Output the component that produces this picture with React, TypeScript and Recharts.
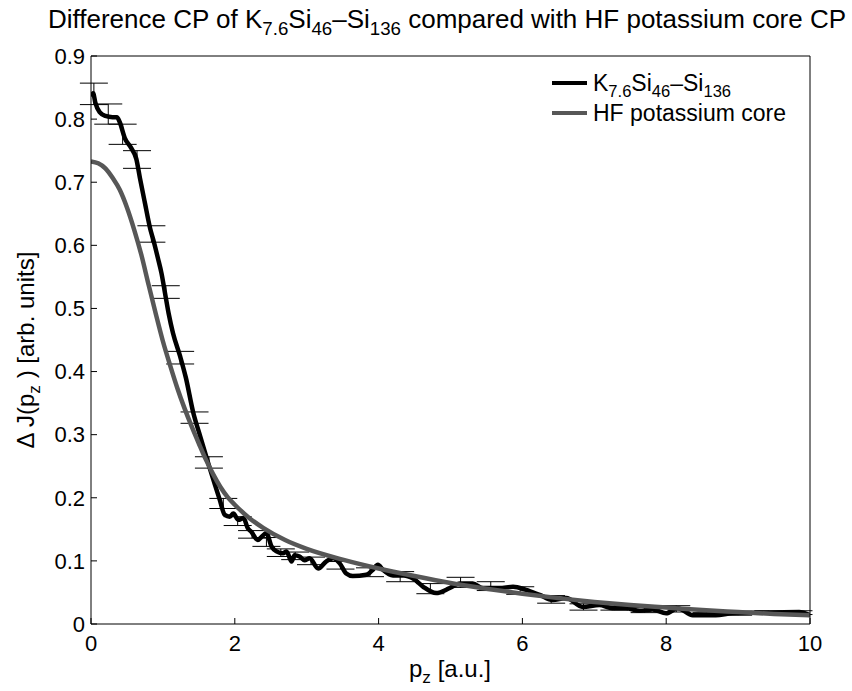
import { ComposedChart, Line, Scatter, ErrorBar, XAxis, YAxis } from "recharts";

// K7.6Si46 - Si136 difference profile (black)
const diffX = [0, 0.03, 0.06, 0.12, 0.2, 0.3, 0.36, 0.4, 0.47, 0.56, 0.63, 0.68, 0.75, 0.82, 0.88, 0.93, 0.98, 1.03, 1.08, 1.14, 1.24, 1.32, 1.42, 1.52, 1.63, 1.72, 1.79, 1.86, 1.93, 1.98, 2.05, 2.12, 2.18, 2.23, 2.32, 2.37, 2.44, 2.51, 2.58, 2.67, 2.72, 2.79, 2.83, 2.9, 2.97, 3.04, 3.16, 3.27, 3.37, 3.46, 3.55, 3.64, 3.83, 3.92, 3.99, 4.06, 4.2, 4.35, 4.48, 4.62, 4.8, 4.99, 5.13, 5.31, 5.45, 5.68, 5.87, 6.05, 6.24, 6.42, 6.61, 6.84, 7.07, 7.25, 7.44, 7.63, 7.81, 8.0, 8.16, 8.37, 8.69, 8.92, 9.38, 9.85, 10];
const diffY = [0.836, 0.841, 0.826, 0.811, 0.805, 0.803, 0.803, 0.795, 0.77, 0.754, 0.737, 0.707, 0.667, 0.628, 0.603, 0.58, 0.556, 0.524, 0.492, 0.461, 0.424, 0.39, 0.336, 0.297, 0.255, 0.222, 0.197, 0.173, 0.17, 0.175, 0.165, 0.168, 0.152, 0.146, 0.133, 0.138, 0.144, 0.123, 0.115, 0.112, 0.115, 0.099, 0.109, 0.107, 0.101, 0.104, 0.088, 0.099, 0.104, 0.096, 0.08, 0.076, 0.078, 0.086, 0.094, 0.086, 0.077, 0.077, 0.072, 0.059, 0.049, 0.057, 0.064, 0.064, 0.057, 0.057, 0.059, 0.054, 0.046, 0.038, 0.041, 0.027, 0.03, 0.025, 0.025, 0.021, 0.023, 0.017, 0.025, 0.014, 0.014, 0.017, 0.018, 0.019, 0.014];

// HF potassium core profile (grey)
const hfX = [0, 0.1, 0.2, 0.3, 0.4, 0.5, 0.6, 0.7, 0.8, 0.9, 1.0, 1.1, 1.2, 1.3, 1.4, 1.5, 1.6, 1.7, 1.8, 1.9, 2.0, 2.2, 2.4, 2.7, 3.0, 3.5, 4.0, 4.5, 5.0, 5.5, 6.0, 6.5, 7.0, 7.5, 8.0, 8.5, 9.0, 9.5, 10];
const hfY = [0.733, 0.73, 0.722, 0.707, 0.688, 0.66, 0.625, 0.585, 0.538, 0.492, 0.448, 0.41, 0.374, 0.342, 0.313, 0.286, 0.26, 0.237, 0.217, 0.201, 0.189, 0.168, 0.152, 0.133, 0.119, 0.102, 0.088, 0.076, 0.065, 0.056, 0.048, 0.041, 0.035, 0.03, 0.026, 0.022, 0.019, 0.016, 0.014];

// error bars on the measured difference
const barX = [0.04, 0.24, 0.44, 0.64, 0.84, 1.04, 1.24, 1.44, 1.64, 1.84, 2.04, 2.24, 2.44, 2.64, 2.84, 3.06, 3.47, 3.88, 4.3, 4.72, 5.14, 5.56, 5.97, 6.4, 6.85, 7.28, 7.7, 8.14, 8.56, 9.0, 9.42, 9.84];
const barY = [0.84, 0.808, 0.776, 0.736, 0.618, 0.526, 0.422, 0.327, 0.256, 0.191, 0.163, 0.142, 0.13, 0.113, 0.108, 0.1, 0.093, 0.082, 0.075, 0.056, 0.066, 0.06, 0.053, 0.039, 0.027, 0.026, 0.022, 0.024, 0.015, 0.017, 0.018, 0.018];
const barErr = [0.017, 0.016, 0.016, 0.014, 0.013, 0.01, 0.01, 0.009, 0.009, 0.008, 0.007, 0.006, 0.007, 0.006, 0.006, 0.006, 0.006, 0.007, 0.008, 0.008, 0.008, 0.007, 0.006, 0.006, 0.005, 0.004, 0.004, 0.005, 0.003, 0.003, 0.003, 0.003];

const xTicks = [0, 2, 4, 6, 8, 10];
const yTicks = [0, 0.1, 0.2, 0.3, 0.4, 0.5, 0.6, 0.7, 0.8, 0.9];

const diffData = diffX.map((x, i) => ({ x, y: diffY[i] }));
const hfData = hfX.map((x, i) => ({ x, y: hfY[i] }));
const barData = barX.map((x, i) => ({ x, y: barY[i], err: barErr[i] }));

const FONT = '"Liberation Sans", Arial, Helvetica, sans-serif';
const sub = { fontSize: "0.72em", verticalAlign: "-0.35em", lineHeight: 0 } as const;

export default function App() {
  return (
    <div style={{ position: "absolute", left: 0, top: 0, width: 852, height: 691, background: "#fff", fontFamily: FONT, color: "#000" }}>
      <ComposedChart width={852} height={691} margin={{ top: 55, right: 41, bottom: 37, left: 41 }}>
        <XAxis dataKey="x" type="number" domain={[0, 10]} ticks={xTicks} allowDataOverflow
          height={30} tickSize={-6} tickMargin={17} stroke="#000"
          tick={{ fill: "#000", fontSize: 22, fontFamily: FONT }} />
        <XAxis xAxisId="top" orientation="top" type="number" domain={[0, 10]} ticks={xTicks}
          allowDataOverflow height={1} tickSize={-6} stroke="#000" tick={false} />
        <YAxis type="number" domain={[0, 0.9]} ticks={yTicks} allowDataOverflow width={50}
          tickSize={-6} tickMargin={12} stroke="#000"
          tickFormatter={(v: number) => (v === 0 ? "0" : v.toFixed(1))}
          tick={{ fill: "#000", fontSize: 22, fontFamily: FONT }} />
        <YAxis yAxisId="right" orientation="right" type="number" domain={[0, 0.9]} ticks={yTicks}
          allowDataOverflow width={1} tickSize={-6} stroke="#000" tick={false} />
        <Scatter data={barData} dataKey="y" shape={() => <g />} isAnimationActive={false}>
          <ErrorBar dataKey="err" direction="y" width={14} stroke="#000" strokeWidth={1} isAnimationActive={false} />
        </Scatter>
        <Line data={diffData} dataKey="y" type="monotone" stroke="#000" strokeWidth={4.5} dot={false} isAnimationActive={false} />
        <Line data={hfData} dataKey="y" type="monotone" stroke="#575757" strokeWidth={4.5} dot={false} isAnimationActive={false} />
      </ComposedChart>

      {/* title */}
      <div style={{ position: "absolute", left: 447, top: 6, transform: "translateX(-50%)", whiteSpace: "nowrap", fontSize: 26, lineHeight: 1 }}>
        Difference CP of K<span style={sub}>7.6</span>Si<span style={sub}>46</span>–Si<span style={sub}>136</span> compared with HF potassium core CP
      </div>

      {/* x label */}
      <div style={{ position: "absolute", left: 450, top: 657, transform: "translateX(-50%)", whiteSpace: "nowrap", fontSize: 24, lineHeight: 1 }}>
        p<span style={sub}>z</span> [a.u.]
      </div>

      {/* y label */}
      <div style={{ position: "absolute", left: 26, top: 350, transform: "translate(-50%, -50%) rotate(-90deg)", whiteSpace: "nowrap", fontSize: 24, lineHeight: 1 }}>
        Δ J(p<span style={sub}>z</span> ) [arb. units]
      </div>

      {/* legend */}
      <div style={{ position: "absolute", left: 552, top: 68, fontSize: 23, lineHeight: "30px" }}>
        <div style={{ display: "flex", alignItems: "center", height: 30 }}>
          <span style={{ display: "inline-block", width: 35, height: 4, background: "#000", marginRight: 6 }} />
          <span>K<span style={sub}>7.6</span>Si<span style={sub}>46</span>–Si<span style={sub}>136</span></span>
        </div>
        <div style={{ display: "flex", alignItems: "center", height: 30 }}>
          <span style={{ display: "inline-block", width: 35, height: 4, background: "#575757", marginRight: 6 }} />
          <span>HF potassium core</span>
        </div>
      </div>
    </div>
  );
}
